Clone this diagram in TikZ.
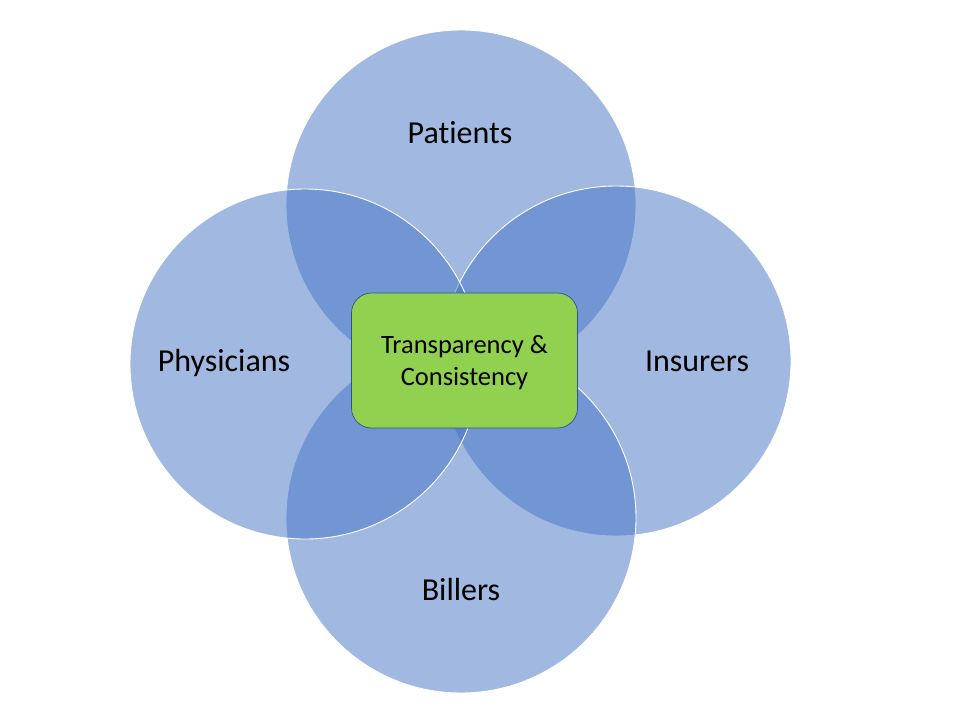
\documentclass[tikz,border=0pt]{standalone}
\usepackage{fontspec}
\setmainfont[Ligatures={NoCommon}]{Carlito}
\definecolor{vennblue}{HTML}{4472C4}
\definecolor{boxgreen}{HTML}{92D050}
\definecolor{boxline}{HTML}{2F528F}
\begin{document}
\begin{tikzpicture}[x=1pt,y=-1pt,
  venn/.style={circle, minimum size=350pt, inner sep=0pt, fill=vennblue, fill opacity=0.5, draw=white, draw opacity=1, line width=0.9pt},
  lbl/.style={font=\fontsize{32}{38}\selectfont, text=black},
  centerbox/.style={rectangle, rounded corners=20pt, fill=boxgreen, draw=boxline, line width=0.7pt, minimum width=226pt, minimum height=135pt, align=center, font=\fontsize{26.5}{32}\selectfont}]
\useasboundingbox (0,0) rectangle (960,720);
\node[venn] (ctop) at (461,205) {};
\node[venn] (cright) at (616,361) {};
\node[venn] (cbottom) at (461,518) {};
\node[venn] (cleft) at (305,364) {};
\node[centerbox] (core) at (464.5,360.5) {};
\node[align=center, font=\fontsize{26.5}{32}\selectfont] (coretext) at (464.5,362.5) {Transparency \&\\Consistency};
\node[lbl] (tpat) at (460,133) {Patients};
\node[lbl] (tphy) at (224,363) {Physicians};
\node[lbl] (tins) at (697,361) {Insurers};
\node[lbl] (tbil) at (461,589) {Billers};
\end{tikzpicture}
\end{document}
